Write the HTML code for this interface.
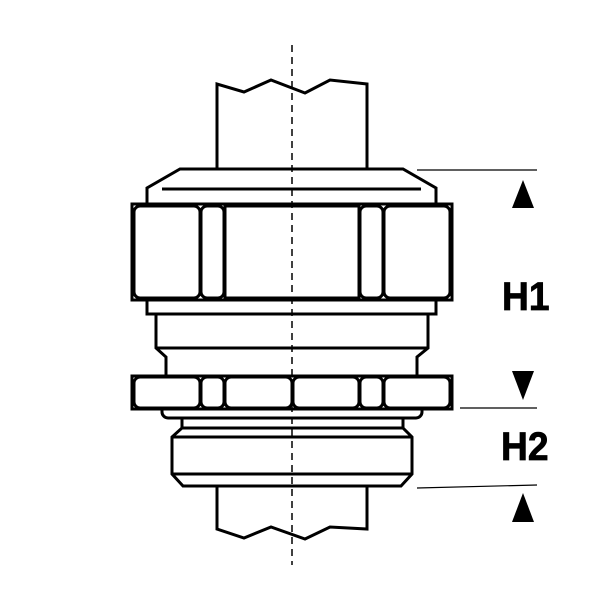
<!DOCTYPE html>
<html><head><style>
html,body{margin:0;padding:0;background:#fff;}
svg{display:block;}
</style></head><body>
<svg width="600" height="600" viewBox="0 0 600 600" xmlns="http://www.w3.org/2000/svg">
<g fill="#fff" stroke="#000" stroke-width="3" stroke-linejoin="miter">
<polygon points="217,169 217,84 244,92 271,80 305,93 330,80 367,84 367,169"/>
<polygon points="217,486 217,529 244,538 271,527 305,539 330,527 367,529 367,486"/>
<polygon points="180,169 403,169 436,188 436,206 147,206 147,188"/>
<line x1="162" y1="189" x2="421" y2="189" />
<rect x="147" y="298" width="289" height="16"/>
<polygon points="156,314 428,314 428,348 417,357 417,378 166,378 166,357 156,348"/>
<line x1="156" y1="348" x2="428" y2="348"/>
<polygon points="182,416 403,416 403,428 412,437 412,474 401,486 183,486 172,474 172,437 182,428"/>
<line x1="182" y1="428" x2="403" y2="428"/>
<line x1="172" y1="437" x2="412" y2="437"/>
<line x1="172" y1="474" x2="412" y2="474"/>
<rect x="162" y="404" width="260" height="14" rx="6"/>
<rect x="132" y="204" width="320" height="96"/>
<rect x="134" y="206" width="66" height="92" rx="6"/>
<rect x="201" y="206" width="23" height="92" rx="6"/>
<rect x="225" y="206" width="134" height="92" rx="0"/>
<rect x="360" y="206" width="23" height="92" rx="6"/>
<rect x="384" y="206" width="66" height="92" rx="6"/>
<rect x="132" y="376" width="320" height="33"/>
<rect x="134" y="377" width="66" height="31" rx="6"/>
<rect x="201" y="377" width="23" height="31" rx="6"/>
<rect x="225" y="377" width="67" height="31" rx="6"/>
<rect x="293" y="377" width="66" height="31" rx="6"/>
<rect x="360" y="377" width="23" height="31" rx="6"/>
<rect x="384" y="377" width="66" height="31" rx="6"/>
</g>
<line x1="292" y1="45" x2="292" y2="565" stroke="#000" stroke-width="1.5" stroke-dasharray="7,5"/>
<g stroke="#000" stroke-width="1.2">
<line x1="417" y1="170" x2="537" y2="170"/>
<line x1="460" y1="408" x2="537" y2="408"/>
<line x1="417" y1="488" x2="537" y2="485"/>
</g>
<g fill="#000">
<polygon points="523,180 512,208 534,208"/>
<polygon points="512,371 534,371 523,400"/>
<polygon points="523,493 512,522 534,522"/>
</g>
<g font-family="Liberation Sans, sans-serif" font-weight="bold" font-size="40" fill="#000" stroke="#000" stroke-width="0.8">
<text x="502" y="310" transform="translate(502 0) scale(0.93 1) translate(-502 0)">H1</text>
<text x="501" y="460" transform="translate(501 0) scale(0.93 1) translate(-501 0)">H2</text>
</g>
</svg>
</body></html>
